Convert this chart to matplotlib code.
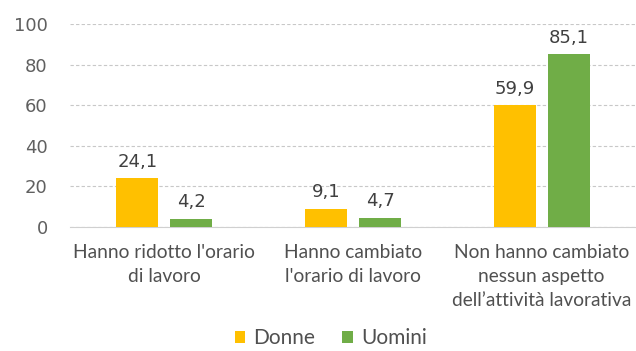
import matplotlib.pyplot as plt
import numpy as np

categories = ["Hanno ridotto l'orario\ndi lavoro",
              "Hanno cambiato\nl'orario di lavoro",
              "Non hanno cambiato\nnessun aspetto\ndell\u2019attività lavorativa"]
donne = [24.1, 9.1, 59.9]
uomini = [4.2, 4.7, 85.1]
yticks = [0, 20, 40, 60, 80, 100]

fig = plt.figure(figsize=(6.36, 3.51), dpi=100)
ax = fig.add_axes([0.11, 0.353, 0.89, 0.579])

x = np.arange(len(categories))
w = 0.222
off = 0.143
b1 = ax.bar(x - off, donne, w, color='#FFC000', label='Donne', zorder=3)
b2 = ax.bar(x + off, uomini, w, color='#70AD47', label='Uomini', zorder=3)

for bars, vals in ((b1, donne), (b2, uomini)):
    for b, v in zip(bars, vals):
        ax.text(b.get_x() + b.get_width() / 2, v + 3.5, f"{v:.1f}".replace('.', ','),
                ha='center', va='bottom', fontsize=13, color='#404040',
                family='DejaVu Sans')

ax.set_xlim(-0.5, 2.5)
ax.set_ylim(0, 100)
ax.set_yticks(yticks)
ax.set_yticklabels([str(t) for t in yticks], fontsize=13, color='#606060')
ax.yaxis.grid(True, linestyle=(0, (3, 2)), color='#c8c8c8', linewidth=0.8, zorder=0)
ax.tick_params(axis='y', length=0, pad=16)
ax.tick_params(axis='x', length=0, pad=12)
ax.set_xticks(x)
ax.set_xticklabels(categories, fontsize=13.8, color='#505050', family='Lato',
                   linespacing=1.5)
for s in ['top', 'right', 'left']:
    ax.spines[s].set_visible(False)
ax.spines['bottom'].set_color('#d0d0d0')

fig.legend(loc='lower center', bbox_to_anchor=(0.52, -0.045), ncol=2, frameon=False,
           prop={'family': 'Lato', 'size': 15}, handlelength=0.5, handleheight=0.5,
           handletextpad=0.4, columnspacing=1.3, labelcolor='#505050')

fig.savefig('out.png', dpi=100)
